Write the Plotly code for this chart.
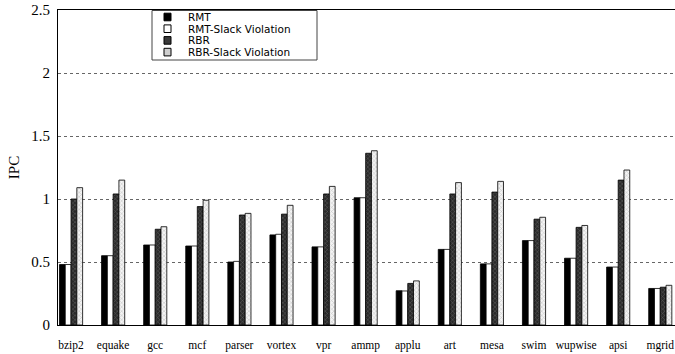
import plotly.graph_objects as go

benchmarks = ["bzip2", "equake", "gcc", "mcf", "parser", "vortex", "vpr", "ammp",
              "applu", "art", "mesa", "swim", "wupwise", "apsi", "mgrid"]

rmt = [0.48, 0.55, 0.635, 0.627, 0.50, 0.715, 0.62, 1.01,
       0.272, 0.60, 0.485, 0.67, 0.53, 0.46, 0.29]
rmt_slack = [0.48, 0.55, 0.635, 0.627, 0.505, 0.72, 0.62, 1.01,
             0.27, 0.60, 0.485, 0.67, 0.53, 0.46, 0.29]
rbr = [1.00, 1.04, 0.76, 0.94, 0.873, 0.88, 1.04, 1.363,
       0.33, 1.04, 1.055, 0.84, 0.775, 1.15, 0.30]
rbr_slack = [1.09, 1.15, 0.78, 0.99, 0.886, 0.95, 1.10, 1.383,
             0.35, 1.13, 1.14, 0.855, 0.79, 1.23, 0.315]

series_names = ["RMT", "RMT-Slack Violation", "RBR", "RBR-Slack Violation"]

y_ticks = [0, 0.5, 1, 1.5, 2, 2.5]
y_tick_text = ["0", "0.5", "1", "1.5", "2", "2.5"]

x = list(range(len(benchmarks)))
outline = dict(color="black", width=0.8)

fig = go.Figure()
fig.add_trace(go.Bar(x=x, y=rmt, name=series_names[0],
                     marker=dict(color="black", line=outline)))
fig.add_trace(go.Bar(x=x, y=rmt_slack, name=series_names[1],
                     marker=dict(color="white", line=outline)))
fig.add_trace(go.Bar(x=x, y=rbr, name=series_names[2],
                     marker=dict(color="#2a2a2a", line=outline,
                                 pattern=dict(shape="x", fgcolor="#9a9a9a",
                                              bgcolor="#2a2a2a", size=3,
                                              solidity=0.3))))
fig.add_trace(go.Bar(x=x, y=rbr_slack, name=series_names[3],
                     marker=dict(color="#d8d8d8", line=outline,
                                 pattern=dict(shape="x", fgcolor="#8a8a8a",
                                              bgcolor="#f4f4f4", size=3,
                                              solidity=0.3))))

serif = "Liberation Serif"
sans = "DejaVu Sans"

# Plot area in pixels: x 58..675, y 10..325 (used to place the compact key box)
L, R, T, B = 58, 675, 10, 325


def px_x(p):
    return (p - L) / (R - L)


def px_y(p):
    return (B - p) / (B - T)


shapes = [dict(type="rect", xref="paper", yref="paper",
               x0=px_x(152), x1=px_x(317), y0=px_y(60), y1=px_y(10.5),
               line=dict(color="#444", width=1), fillcolor="white", layer="above")]
annotations = []
swatch_fill = ["black", "white", "#3a3a3a", "#cfcfcf"]
for i, (name, fill) in enumerate(zip(series_names, swatch_fill)):
    cy = 17 + i * 11.7
    shapes.append(dict(type="rect", xref="paper", yref="paper",
                       x0=px_x(164), x1=px_x(171), y0=px_y(cy + 3.8), y1=px_y(cy - 3.8),
                       line=dict(color="black", width=1), fillcolor=fill, layer="above"))
    annotations.append(dict(xref="paper", yref="paper", x=px_x(187), y=px_y(cy),
                            xanchor="left", yanchor="middle", showarrow=False,
                            borderpad=0,
                            text=name, font=dict(family=sans, size=10.5, color="black")))

fig.update_layout(
    width=675, height=354,
    margin=dict(l=L, r=675 - R, t=T, b=354 - B),
    paper_bgcolor="white", plot_bgcolor="white",
    barmode="group", bargap=0.45, bargroupgap=0,
    showlegend=False,
    shapes=shapes, annotations=annotations,
    font=dict(family=serif, color="black"),
)

fig.update_xaxes(
    range=[-0.31, 14.35],
    tickmode="array", tickvals=x, ticktext=benchmarks,
    tickfont=dict(family=serif, size=11.5, color="black"),
    showgrid=False, zeroline=False,
    showline=True, linecolor="black", linewidth=1, mirror=True,
    ticks="", ticklabelstandoff=9,
)

fig.update_yaxes(
    range=[0, 2.5],
    tickmode="array", tickvals=y_ticks, ticktext=y_tick_text,
    tickfont=dict(family=serif, size=15, color="black"),
    showgrid=True, gridcolor="#666", griddash="dot", gridwidth=1,
    zeroline=False,
    showline=True, linecolor="black", linewidth=1, mirror=False,
    ticks="", ticklabelstandoff=4,
    title=dict(text="IPC", font=dict(family=serif, size=15, color="black"),
               standoff=8),
)

fig.write_html("out.html")
